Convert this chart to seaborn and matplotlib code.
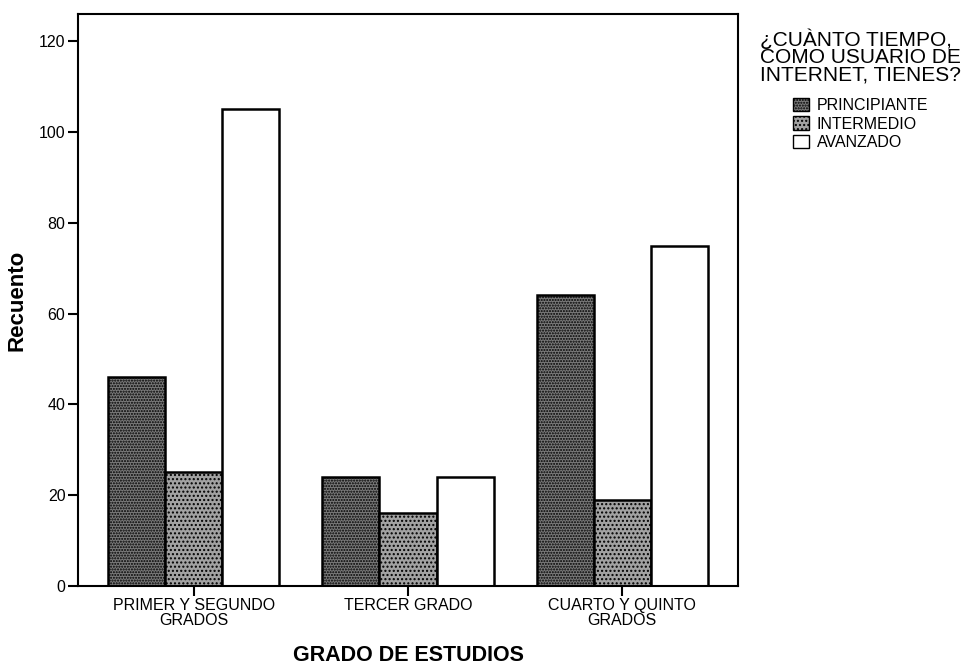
import matplotlib
matplotlib.use("Agg")
import matplotlib.pyplot as plt
import seaborn as sns
import pandas as pd
from matplotlib.patches import Patch

grados = ["PRIMER Y SEGUNDO\nGRADOS", "TERCER GRADO", "CUARTO Y QUINTO\nGRADOS"]
niveles = ["PRINCIPIANTE", "INTERMEDIO", "AVANZADO"]
principiante = [46, 24, 64]
intermedio = [25, 16, 19]
avanzado = [105, 24, 75]

rows = []
for nivel, vals in zip(niveles, [principiante, intermedio, avanzado]):
    for g, v in zip(grados, vals):
        rows.append({"grado": g, "nivel": nivel, "recuento": v})
df = pd.DataFrame(rows)

sns.set_theme(style="white")
plt.rcParams["font.family"] = ["Liberation Sans", "DejaVu Sans"]
plt.rcParams["text.color"] = "black"
plt.rcParams["axes.labelcolor"] = "black"
plt.rcParams["xtick.color"] = "black"
plt.rcParams["ytick.color"] = "black"

fig = plt.figure(figsize=(9.7, 6.68), dpi=100)
ax = fig.add_axes([0.0804, 0.1228, 0.6804, 0.8562])

faces = {"PRINCIPIANTE": "#7a7a7a", "INTERMEDIO": "#a2a2a2", "AVANZADO": "#ffffff"}
hatches = {"PRINCIPIANTE": "......", "INTERMEDIO": "....", "AVANZADO": ""}

sns.barplot(data=df, x="grado", y="recuento", hue="nivel", order=grados,
            hue_order=niveles, palette=faces, width=0.8, ax=ax,
            edgecolor="black", linewidth=1.8, saturation=1, legend=False)

for cont, nivel in zip(ax.containers, niveles):
    for bar in cont:
        bar.set_hatch(hatches[nivel])
        bar.set_facecolor(faces[nivel])
        bar.set_edgecolor("black")

ax.set_xlim(-0.54, 2.54)
ax.set_ylim(0, 126)
ax.set_yticks([0, 20, 40, 60, 80, 100, 120])
for s in ax.spines.values():
    s.set_visible(True)
    s.set_color("black")
    s.set_linewidth(1.5)

ax.tick_params(axis="both", direction="out", length=7, width=1.5, colors="black",
               labelsize=11.5, left=True, bottom=True, pad=2)
ax.set_ylabel("Recuento", fontsize=16, fontweight="bold", labelpad=8)
ax.set_xlabel("GRADO DE ESTUDIOS", fontsize=15.5, fontweight="bold", labelpad=12)
for lbl in ax.get_xticklabels():
    lbl.set_linespacing(1.0)

handles = [Patch(facecolor=faces[n], edgecolor="black", hatch=hatches[n], linewidth=1)
           for n in niveles]
leg = fig.legend(handles, niveles, title="¿CUÀNTO TIEMPO,\nCOMO USUARIO DE\nINTERNET, TIENES?",
                 loc="upper center", bbox_to_anchor=(0.887, 0.968), frameon=False,
                 fontsize=11.5, title_fontsize=15, handlelength=1.0, handleheight=0.9,
                 handletextpad=0.5, labelspacing=0.2, borderpad=0)
leg.get_title().set_linespacing(0.9)
leg._legend_box.align = "center"
leg._legend_box.sep = 9.5

fig.savefig("out.png", dpi=100)
